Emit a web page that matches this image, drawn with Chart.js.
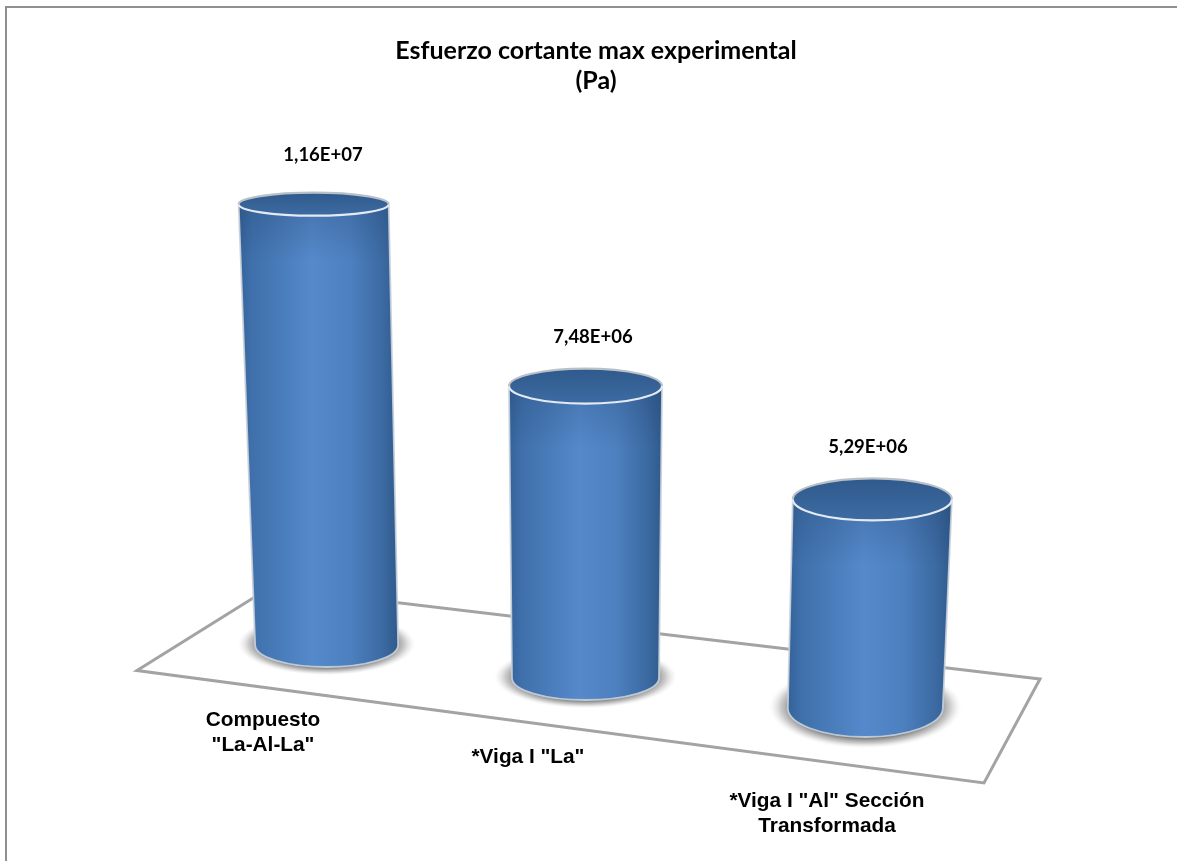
<!DOCTYPE html>
<html lang="es">
<head>
<meta charset="utf-8">
<title>Esfuerzo cortante max experimental</title>
<script src="https://cdn.jsdelivr.net/npm/chart.js@4/dist/chart.umd.js"></script>
<style>
  html, body { margin: 0; padding: 0; background: #fff; overflow: hidden; }
  canvas { display: block; }
</style>
</head>
<body>
<canvas id="chart" width="1177" height="861"></canvas>
<script>
// Chart values
const titleLines = ['Esfuerzo cortante max experimental', '(Pa)'];
const categories = [['Compuesto', '"La-Al-La"'], ['*Viga I "La"'], ['*Viga I "Al" Sección', 'Transformada']];
const shearStress = [1.16e7, 7.48e6, 5.29e6];

// Oblique projection of each cylinder on the floor plane
const floorShiftX = [0, -10.5, 0];
const floorShiftY = [0, 33, 63];
const depthScale = [1, 1.027, 1.038];
const baseWidthScale = [1, 1.028, 1.084];
const topWidthScale = [1.049, 1.07, 1.112];
const topLeanX = [-13, 0, 7];
const baseRy = [22, 22, 29];
const topRy = [11.5, 17.5, 21];

// Text anchors relative to the cylinders
const valueLabelX = [323, 593, 868];
const valueLabelGap = [49.5, 49.5, 52.5];
const categoryLabelX = [263, 528, 827];
const categoryLabelY = [720, 757, 801];
const categoryLineHeight = 25;

// Floor plane outline and outer frame
const floorCorners = [[137, 670.5], [270, 587.6], [1040, 679], [984, 783]];
const frameColor = '#8f8f8f';
const floorColor = '#a3a3a3';

// "1,16E+07" style scientific notation
function formatValue(v) {
  const [m, e] = v.toExponential(2).split('e');
  const exp = parseInt(e, 10);
  return m.replace('.', ',') + 'E' + (exp < 0 ? '-' : '+') + String(Math.abs(exp)).padStart(2, '0');
}

function drawCylinder(ctx, el, i) {
  const nominalHeight = el.base - el.y;
  const baseCx = el.x + floorShiftX[i];
  const baseCy = el.base + floorShiftY[i];
  const topCx = baseCx + topLeanX[i];
  const topCy = baseCy - nominalHeight * depthScale[i];
  const bRx = el.width / 2 * baseWidthScale[i];
  const tRx = el.width / 2 * topWidthScale[i];
  const bRy = baseRy[i];
  const tRy = topRy[i];

  // Soft contact shadow on the floor
  ctx.save();
  ctx.translate(baseCx, baseCy - 1);
  ctx.scale(bRx * 1.24, bRy * 1.42);
  const sh = ctx.createRadialGradient(0, 0, 0, 0, 0, 1);
  sh.addColorStop(0, 'rgba(95,95,95,0.9)');
  sh.addColorStop(0.76, 'rgba(105,105,105,0.85)');
  sh.addColorStop(0.88, 'rgba(160,160,160,0.55)');
  sh.addColorStop(1, 'rgba(220,220,220,0)');
  ctx.fillStyle = sh;
  ctx.beginPath();
  ctx.arc(0, 0, 1, 0, Math.PI * 2);
  ctx.fill();
  ctx.restore();

  // Cylinder wall
  const xMin = Math.min(topCx - tRx, baseCx - bRx);
  const xMax = Math.max(topCx + tRx, baseCx + bRx);
  const wall = ctx.createLinearGradient(xMin, 0, xMax, 0);
  wall.addColorStop(0, '#34629a');
  wall.addColorStop(0.08, '#3f70ab');
  wall.addColorStop(0.28, '#4a7dbb');
  wall.addColorStop(0.46, '#5589cb');
  wall.addColorStop(0.7, '#4d80bf');
  wall.addColorStop(0.9, '#3c6aa2');
  wall.addColorStop(1, '#2f5a8c');
  ctx.beginPath();
  ctx.moveTo(topCx - tRx, topCy);
  ctx.lineTo(baseCx - bRx, baseCy);
  ctx.ellipse(baseCx, baseCy, bRx, bRy, 0, Math.PI, 0, true);
  ctx.lineTo(topCx + tRx, topCy);
  ctx.closePath();
  ctx.fillStyle = wall;
  ctx.fill();

  // Darker band just under the rim
  const rimShade = ctx.createLinearGradient(0, topCy, 0, topCy + tRy + 45);
  rimShade.addColorStop(0, 'rgba(30,60,100,0.28)');
  rimShade.addColorStop(1, 'rgba(30,60,100,0)');
  ctx.fillStyle = rimShade;
  ctx.fill();

  // Light edge along the sides and the lower curve
  ctx.strokeStyle = 'rgba(200,208,218,0.9)';
  ctx.lineWidth = 1.8;
  ctx.beginPath();
  ctx.moveTo(topCx + tRx, topCy);
  ctx.lineTo(baseCx + bRx, baseCy);
  ctx.ellipse(baseCx, baseCy, bRx, bRy, 0, 0, Math.PI);
  ctx.lineTo(topCx - tRx, topCy);
  ctx.stroke();

  // Top face
  const face = ctx.createLinearGradient(0, topCy - tRy, 0, topCy + tRy);
  face.addColorStop(0, '#2f5a8c');
  face.addColorStop(1, '#3d6ba2');
  ctx.beginPath();
  ctx.ellipse(topCx, topCy, tRx, tRy, 0, 0, Math.PI * 2);
  ctx.fillStyle = face;
  ctx.fill();

  // Rim: grey on the far side, white on the near side
  ctx.lineWidth = 2.2;
  ctx.strokeStyle = '#b9c0c9';
  ctx.beginPath();
  ctx.ellipse(topCx, topCy, tRx, tRy, 0, Math.PI, 0);
  ctx.stroke();
  ctx.strokeStyle = '#e3eaf2';
  ctx.beginPath();
  ctx.ellipse(topCx, topCy, tRx, tRy, 0, 0, Math.PI);
  ctx.stroke();

  return { topCy };
}

const cylinderPlugin = {
  id: 'cylinders',
  beforeDraw(chart) {
    const { ctx } = chart;
    ctx.save();
    ctx.fillStyle = '#fff';
    ctx.fillRect(0, 0, chart.width, chart.height);
    ctx.strokeStyle = frameColor;
    ctx.lineWidth = 2;
    ctx.beginPath();
    ctx.moveTo(6, chart.height);
    ctx.lineTo(6, 7);
    ctx.lineTo(chart.width, 7);
    ctx.stroke();
    ctx.restore();
  },
  beforeDatasetsDraw(chart) {
    const { ctx } = chart;
    ctx.save();
    ctx.strokeStyle = floorColor;
    ctx.lineWidth = 3;
    ctx.lineJoin = 'miter';
    ctx.beginPath();
    floorCorners.forEach(([x, y], k) => (k ? ctx.lineTo(x, y) : ctx.moveTo(x, y)));
    ctx.closePath();
    ctx.stroke();
    ctx.restore();
  },
  afterDatasetsDraw(chart) {
    const { ctx } = chart;
    const bars = chart.getDatasetMeta(0).data;
    ctx.save();
    bars.forEach((el, i) => {
      const { topCy } = drawCylinder(ctx, el, i);

      // Value above the cylinder
      ctx.fillStyle = '#000';
      ctx.textAlign = 'center';
      ctx.textBaseline = 'middle';
      ctx.font = 'bold 18.5px Lato, "Open Sans", sans-serif';
      ctx.fillText(formatValue(shearStress[i]), valueLabelX[i], topCy - valueLabelGap[i]);

      // Category name below the floor
      ctx.font = 'bold 20.8px "Liberation Sans", Arial, sans-serif';
      categories[i].forEach((line, k) => {
        ctx.fillText(line, categoryLabelX[i], categoryLabelY[i] + k * categoryLineHeight);
      });
    });
    ctx.restore();
  }
};

new Chart(document.getElementById('chart'), {
  type: 'bar',
  data: {
    labels: categories,
    datasets: [{
      label: 'Esfuerzo cortante max experimental (Pa)',
      data: shearStress,
      backgroundColor: 'rgba(0,0,0,0)',
      borderWidth: 0,
      barPercentage: 0.531,
      categoryPercentage: 1
    }]
  },
  options: {
    responsive: false,
    animation: false,
    events: [],
    layout: { padding: { left: 192, right: 177, top: 0, bottom: 216 } },
    scales: {
      x: { display: false },
      y: { display: false, min: 0, max: 1.2e7 }
    },
    plugins: {
      legend: { display: false },
      tooltip: { enabled: false },
      title: {
        display: true,
        text: titleLines,
        color: '#000',
        font: { family: 'Lato, "Open Sans", sans-serif', size: 25, weight: 'bold', lineHeight: 1.2 },
        padding: { top: 36, bottom: 93 }
      }
    }
  },
  plugins: [cylinderPlugin]
});
</script>
</body>
</html>
